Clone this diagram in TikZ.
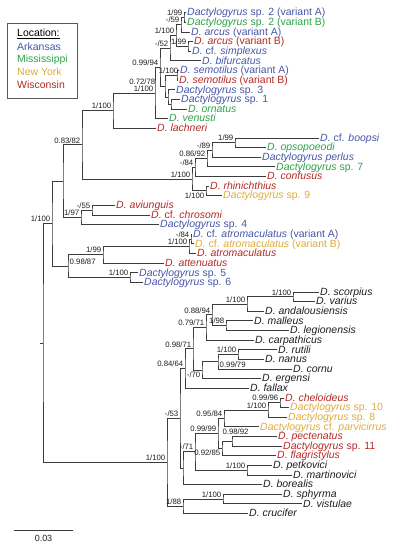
\documentclass[tikz,border=0pt]{standalone}
\usepackage{fontspec}
\setmainfont{Liberation Sans}
\usetikzlibrary{calc}
\definecolor{arkblue}{RGB}{70,86,168}
\definecolor{missgreen}{RGB}{44,162,70}
\definecolor{nyyellow}{RGB}{222,172,58}
\definecolor{wisred}{RGB}{180,40,38}
\definecolor{ink}{RGB}{30,30,30}
\definecolor{brgray}{RGB}{60,60,60}
\tikzset{
  br/.style={brgray, line width=0.75bp, line cap=rect},
  lf/.style={anchor=west, inner sep=0pt, text height=7.1bp, text depth=0.5bp,
             font=\fontsize{10.5}{10.5}\selectfont},
  pp/.style={anchor=south east, inner sep=1.5bp, text=ink,
             font=\fontsize{7.8}{7.8}\selectfont},
  lgd/.style={anchor=west, inner sep=0pt, font=\fontsize{10.5}{10.5}\selectfont},
  lbox/.style={draw=black!65, line width=0.8bp, inner sep=0pt},
}
\newcommand{\tip}[5]{%
  \coordinate (#1) at (#3,{\yo+\dy*(#2-1)});
  \node[lf, text=#4] (#1t) at ([xshift=1bp]#1) {#5};}
\newcommand{\clade}[4]{%
  \coordinate (#1m) at ($(#3)!.5!(#4)$);
  \coordinate (#1) at (#2,0 |- #1m);
  \draw[br] (#3) -| (#1) |- (#4);}
\newcommand{\blab}[3][]{\node[pp,#1] (#2l) at (#2) {#3};}

\begin{document}
\begin{tikzpicture}[x=1bp, y=-1bp]
    \def\dy{9.63} \def\yo{12.7}
    \useasboundingbox (0,0) rectangle (397,550);
    \tip{sp2a}{1}{186}{arkblue}{\textit{Dactylogyrus} sp. 2 (variant A)}
    \tip{sp2b}{2}{186}{missgreen}{\textit{Dactylogyrus} sp. 2 (variant B)}
    \tip{arca}{3}{190}{arkblue}{\textit{D. arcus} (variant A)}
    \tip{arcb}{4}{193}{wisred}{\textit{D. arcus} (variant B)}
    \tip{simp}{5}{191}{arkblue}{\textit{D.} cf. \textit{simplexus}}
    \tip{bifu}{6}{201}{arkblue}{\textit{D. bifurcatus}}
    \tip{sema}{7}{179}{arkblue}{\textit{D. semotilus} (variant A)}
    \tip{semb}{8}{178}{wisred}{\textit{D. semotilus} (variant B)}
    \tip{sp3}{9}{175}{arkblue}{\textit{Dactylogyrus} sp. 3}
    \tip{sp1}{10}{180}{arkblue}{\textit{Dactylogyrus} sp. 1}
    \tip{orna}{11}{187}{missgreen}{\textit{D. ornatus}}
    \tip{venu}{12}{168}{missgreen}{\textit{D. venusti}}
    \tip{lach}{13}{156}{wisred}{\textit{D. lachneri}}
    \tip{boop}{14}{319}{arkblue}{\textit{D.} cf. \textit{boopsi}}
    \tip{opso}{15}{266}{missgreen}{\textit{D. opsopoeodi}}
    \tip{perl}{16}{261}{arkblue}{\textit{Dactylogyrus perlus}}
    \tip{sp7}{17}{275}{missgreen}{\textit{Dactylogyrus} sp. 7}
    \tip{conf}{18}{266}{wisred}{\textit{D. confusus}}
    \tip{rhin}{19}{209}{wisred}{\textit{D. rhinichthius}}
    \tip{sp9}{20}{222}{nyyellow}{\textit{Dactylogyrus} sp. 9}
    \tip{aviu}{21}{115}{wisred}{\textit{D. aviunguis}}
    \tip{chro}{22}{150}{wisred}{\textit{D.} cf. \textit{chrosomi}}
    \tip{sp4}{23}{159}{arkblue}{\textit{Dactylogyrus} sp. 4}
    \tip{atra}{24}{192}{arkblue}{\textit{D.} cf. \textit{atromaculatus} (variant A)}
    \tip{atrb}{25}{194}{nyyellow}{\textit{D.} cf. \textit{atromaculatus} (variant B)}
    \tip{atro}{26}{196}{wisred}{\textit{D. atromaculatus}}
    \tip{atte}{27}{164}{wisred}{\textit{D. attenuatus}}
    \tip{sp5}{28}{138}{arkblue}{\textit{Dactylogyrus} sp. 5}
    \tip{sp6}{29}{143}{arkblue}{\textit{Dactylogyrus} sp. 6}
    \tip{scor}{30}{319}{ink}{\textit{D. scorpius}}
    \tip{vari}{31}{315}{ink}{\textit{D. varius}}
    \tip{anda}{32}{264}{ink}{\textit{D. andalousiensis}}
    \tip{mall}{33}{253}{ink}{\textit{D. malleus}}
    \tip{legi}{34}{289}{ink}{\textit{D. legionensis}}
    \tip{carp}{35}{254}{ink}{\textit{D. carpathicus}}
    \tip{ruti}{36}{277}{ink}{\textit{D. rutili}}
    \tip{nanu}{37}{264}{ink}{\textit{D. nanus}}
    \tip{corn}{38}{292}{ink}{\textit{D. cornu}}
    \tip{erge}{39}{261}{ink}{\textit{D. ergensi}}
    \tip{fall}{40}{249}{ink}{\textit{D. fallax}}
    \tip{chel}{41}{284}{wisred}{\textit{D. cheloideus}}
    \tip{sp10}{42}{289}{nyyellow}{\textit{Dactylogyrus} sp. 10}
    \tip{sp8}{43}{287}{nyyellow}{\textit{Dactylogyrus} sp. 8}
    \tip{parv}{44}{259}{nyyellow}{\textit{Dactylogyrus} cf. \textit{parvicirrus}}
    \tip{pect}{45}{277}{wisred}{\textit{D. pectenatus}}
    \tip{sp11}{46}{282}{wisred}{\textit{Dactylogyrus} sp. 11}
    \tip{flag}{47}{276}{wisred}{\textit{D. flagristylus}}
    \tip{petk}{48}{272}{ink}{\textit{D. petkovici}}
    \tip{mart}{49}{292}{ink}{\textit{D. martinovici}}
    \tip{bore}{50}{262}{ink}{\textit{D. borealis}}
    \tip{sphy}{51}{282}{ink}{\textit{D. sphyrma}}
    \tip{vist}{52}{302}{ink}{\textit{D. vistulae}}
    \tip{cruc}{53}{248}{ink}{\textit{D. crucifer}}

    \clade{nsp2}{184}{sp2a}{sp2b}
    \clade{n59}{181}{nsp2}{arca}
    \clade{narcb}{188}{arcb}{simp}
    \clade{n100a}{176}{n59}{narcb}
    \clade{n52}{170}{n100a}{bifu}
    \clade{nsem}{177}{sema}{semb}
    \clade{nsp1}{171}{sp1}{orna}
    \clade{nsp3}{168}{sp3}{nsp1}
    \clade{n78}{165}{nsem}{nsp3}
    \clade{n94}{160}{n52}{n78}
    \clade{n100b}{155}{n94}{venu}
    \clade{n100c}{113}{n100b}{lach}
    \clade{nboop}{235}{boop}{opso}
    \clade{n89}{212}{nboop}{perl}
    \clade{n92}{207}{n89}{sp7}
    \clade{n84}{195}{n92}{conf}
    \clade{nrhin}{206}{rhin}{sp9}
    \clade{n100d}{192}{n84}{nrhin}
    \clade{n82}{82}{n100c}{n100d}
    \clade{n55}{92}{aviu}{chro}
    \clade{n97}{81}{n55}{sp4}
    \clade{n63}{63}{n82}{n97}
    \clade{n84b}{191}{atra}{atrb}
    \clade{natro}{189}{n84b}{atro}
    \clade{n99}{103}{natro}{atte}
    \clade{nsp5}{130}{sp5}{sp6}
    \clade{n87}{68}{n99}{nsp5}
    \clade{n100e}{52}{n63}{n87}
    \clade{nscor}{293}{scor}{vari}
    \clade{nanda}{247}{nscor}{anda}
    \clade{nmall}{226}{mall}{legi}
    \clade{n94c}{212}{nanda}{nmall}
    \clade{n71a}{206}{n94c}{carp}
    \clade{nruti}{238}{ruti}{nanu}
    \clade{ncorn}{218}{nruti}{corn}
    \clade{n70}{202}{ncorn}{erge}
    \clade{n71b}{193}{n71a}{n70}
    \clade{n64}{185}{n71b}{fall}
    \clade{nchel}{280}{chel}{sp10}
    \clade{n100f}{268}{nchel}{sp8}
    \clade{n84c}{224}{n100f}{parv}
    \clade{npect}{232}{pect}{sp11}
    \clade{n85}{222}{npect}{flag}
    \clade{n99b}{218}{n84c}{n85}
    \clade{npetk}{247}{petk}{mart}
    \clade{n71c}{195}{n99b}{npetk}
    \clade{nbore}{183}{n71c}{bore}
    \clade{n53}{180}{n64}{nbore}
    \clade{nsphy}{223}{sphy}{vist}
    \clade{n88}{183}{nsphy}{cruc}
    \clade{n100g}{167}{n53}{n88}
    \clade{root}{43}{n100e}{n100g}
    \coordinate (rootend) at ([xshift=-3bp]root);
    \draw[br] (root) -- (rootend);

    \blab{nsp2}{1/99}
    \blab{n59}{-/59}
    \blab{narcb}{1/99}
    \blab{n100a}{1/100}
    \blab{n52}{-/52}
    \blab[xshift=3bp]{nsem}{1/100}
    \blab{n94}{0.99/94}
    \blab[xshift=-8bp]{n78}{0.72/78}
    \blab{n100b}{1/100}
    \blab{n100c}{1/100}
    \blab{nboop}{1/99}
    \blab{n89}{-/89}
    \blab{n92}{0.86/92}
    \blab{n84}{-/84}
    \blab{n100d}{1/100}
    \blab[anchor=north east]{nrhin}{1/100}
    \blab{n82}{0.83/82}
    \blab{n55}{-/55}
    \blab{n97}{1/97}
    \blab{n84b}{-/84}
    \blab{natro}{1/100}
    \blab{n99}{1/99}
    \blab{nsp5}{1/100}
    \blab[anchor=south west]{n87}{0.98/87}
    \blab{n100e}{1/100}
    \blab{nscor}{1/100}
    \blab{nanda}{1/100}
    \blab{nmall}{1/98}
    \blab{n94c}{0.88/94}
    \blab{n71a}{0.79/71}
    \blab{nruti}{1/100}
    \node[pp, anchor=south west] (ncornl) at (ncorn |- corn) {0.99/79};
    \blab[anchor=north east]{n70}{-/70}
    \blab{n71b}{0.98/71}
    \blab{n64}{0.84/64}
    \blab{nchel}{0.99/96}
    \blab{n100f}{1/100}
    \blab{n84c}{0.95/84}
    \blab[anchor=south, xshift=3.5bp, yshift=5bp]{npect}{0.98/92}
    \blab[anchor=north east]{n85}{0.92/85}
    \blab{n99b}{0.99/99}
    \blab{npetk}{1/100}
    \blab{n71c}{-/71}
    \blab{n53}{-/53}
    \blab{nsphy}{1/100}
    \blab{n88}{1/88}
    \blab{n100g}{1/100}

    \node[lbox, anchor=north west, minimum width=70bp, minimum height=75bp] (lgdbox) at (7,23) {};
    \node[lgd] (lgdhead) at (17,34) {\underline{Location:}};
    \node[lgd, text=arkblue] (lgdar) at (17,47) {Arkansas};
    \node[lgd, text=missgreen] (lgdms) at (17,60) {Mississippi};
    \node[lgd, text=nyyellow] (lgdny) at (17,72) {New York};
    \node[lgd, text=wisred] (lgdwi) at (17,85) {Wisconsin};

    \coordinate (sbl) at (14,530);
    \coordinate (sbr) at (73,530);
    \draw[br] (sbl) -- (sbr) node[midway, below=5bp, inner sep=0pt, text=ink,
      font=\fontsize{9}{9}\selectfont] (sblab) {0.03};
\end{tikzpicture}
\end{document}
